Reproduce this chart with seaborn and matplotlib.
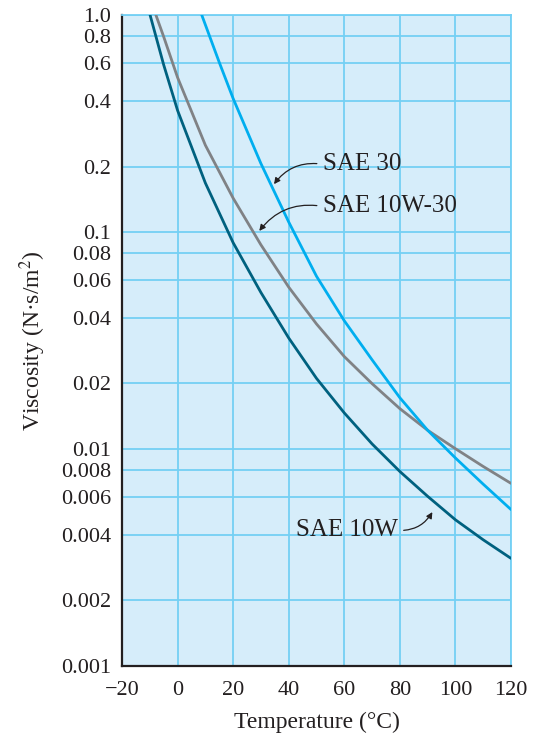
import numpy as np
import pandas as pd
import matplotlib
matplotlib.use("Agg")
import matplotlib.pyplot as plt
import seaborn as sns

# values (temperature in C, viscosity in N.s/m2)
sae10w_temp = [-9.9, -5, 0, 10, 20, 30, 40, 50, 60, 70, 80, 90, 100, 110, 120]
sae10w_visc = [1.0, 0.589, 0.363, 0.168, 0.0891, 0.0525, 0.0324, 0.0211, 0.01462, 0.01052,
               0.00785, 0.00603, 0.0047, 0.0038, 0.00312]

sae10w30_temp = [-7.8, -5, 0, 10, 20, 30, 40, 50, 60, 70, 80, 90, 100, 110, 120]
sae10w30_visc = [1.0, 0.794, 0.515, 0.251, 0.143, 0.0871, 0.0556, 0.0376, 0.0266, 0.01995,
                 0.0153, 0.01216, 0.0100, 0.00828, 0.00692]

sae30_temp = [8.7, 15, 20, 30, 40, 50, 60, 70, 80, 90, 100, 110, 120]
sae30_visc = [1.0, 0.605, 0.412, 0.2065, 0.111, 0.0624, 0.0389, 0.0257, 0.01718, 0.01216,
              0.00906, 0.00686, 0.00524]

oil_names = ["SAE 10W", "SAE 10W-30", "SAE 30"]
oil_colors = ["#00617f", "#808285", "#00aeef"]

y_ticks = [0.001, 0.002, 0.004, 0.006, 0.008, 0.01, 0.02, 0.04, 0.06, 0.08, 0.1, 0.2, 0.4, 0.6, 0.8, 1.0]
y_tick_labels = ["0.001", "0.002", "0.004", "0.006", "0.008", "0.01", "0.02", "0.04", "0.06", "0.08",
                 "0.1", "0.2", "0.4", "0.6", "0.8", "1.0"]
x_ticks = [-20, 0, 20, 40, 60, 80, 100, 120]
x_tick_labels = ["\u221220", "0", "20", "40", "60", "80", "100", "120"]

df = pd.concat([
    pd.DataFrame({"temp": sae10w_temp, "visc": sae10w_visc, "oil": "SAE 10W"}),
    pd.DataFrame({"temp": sae10w30_temp, "visc": sae10w30_visc, "oil": "SAE 10W-30"}),
    pd.DataFrame({"temp": sae30_temp, "visc": sae30_visc, "oil": "SAE 30"}),
])

sns.set_theme(style="white")
plt.rcParams["font.family"] = ["Liberation Serif", "DejaVu Serif"]
plt.rcParams["mathtext.fontset"] = "stix"

bg = "#d6edfa"
grid_col = "#74d0f4"
ink = "#231f20"

fig = plt.figure(figsize=(5.38, 7.37), dpi=100)
ax = fig.add_axes([0.2268, 0.097, 0.7230, 0.8826])
ax.set_facecolor(bg)

sns.lineplot(data=df, x="temp", y="visc", hue="oil", hue_order=oil_names,
             palette=dict(zip(oil_names, oil_colors)), estimator=None, sort=False,
             linewidth=2.0, legend=False, ax=ax, zorder=3)
for line in ax.lines:
    line.set_solid_joinstyle("round")

ax.set_yscale("log")
ax.set_xlim(-20, 120)
ax.set_ylim(0.001, 1.0)
ax.set_yticks(y_ticks)
ax.set_yticklabels(y_tick_labels)
ax.yaxis.set_minor_locator(matplotlib.ticker.NullLocator())
ax.set_xticks(x_ticks)
ax.set_xticklabels(x_tick_labels)
ax.tick_params(axis="both", length=0, labelsize=16, colors=ink)
ax.tick_params(axis="y", pad=8)
ax.tick_params(axis="x", pad=11)

ax.grid(True, color=grid_col, linewidth=1.3, zorder=1)
ax.set_axisbelow(True)

for side in ["top", "right"]:
    ax.spines[side].set_color(grid_col)
    ax.spines[side].set_linewidth(1.3)
for side in ["left", "bottom"]:
    ax.spines[side].set_color(ink)
    ax.spines[side].set_linewidth(1.6)

ax.set_xlabel("Temperature (\u00b0C)", fontsize=17, color=ink, labelpad=9)
ax.set_ylabel("Viscosity (N\u00b7s/m$^2$)", fontsize=17, color=ink, labelpad=9)

arrow = dict(arrowstyle="-|>", color=ink, lw=0.9, mutation_scale=9,
             connectionstyle="arc3,rad=0.3", shrinkA=2, shrinkB=0)
ax.annotate("SAE 30", xy=(34.7, 0.166), xytext=(52.3, 0.205), fontsize=18, color=ink,
            ha="left", va="center", arrowprops=dict(arrow, relpos=(0, 0.5)))
ax.annotate("SAE 10W-30", xy=(29.4, 0.101), xytext=(52.3, 0.131), fontsize=18, color=ink,
            ha="left", va="center", arrowprops=dict(arrow, relpos=(0, 0.5)))
ax.annotate("SAE 10W", xy=(91.7, 0.0051), xytext=(79.2, 0.0042), fontsize=18, color=ink,
            ha="right", va="center", arrowprops=dict(arrow, relpos=(1, 0.5)))

fig.savefig("out.png", dpi=100)
